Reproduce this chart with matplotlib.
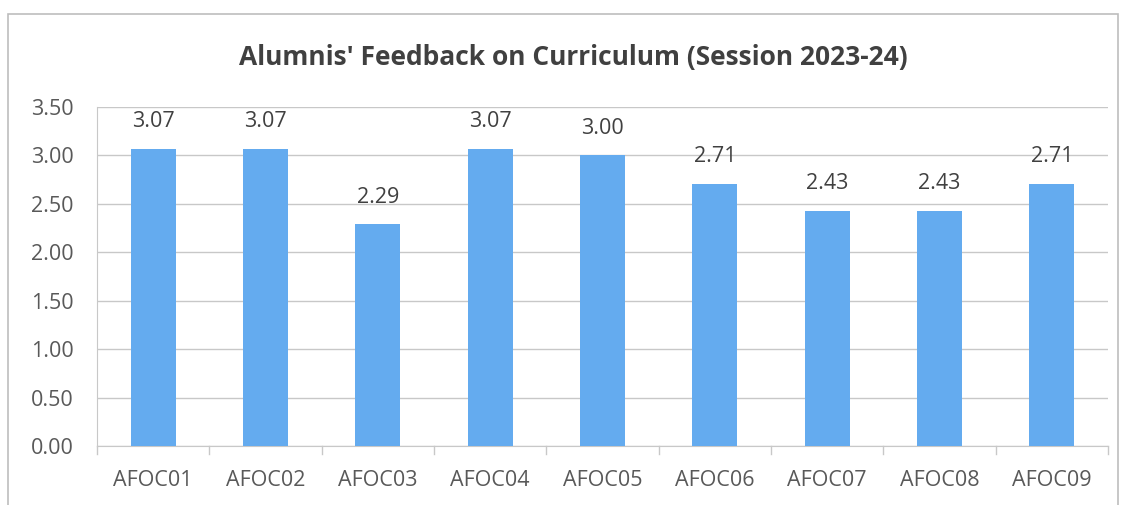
import matplotlib
matplotlib.use("Agg")
import matplotlib.pyplot as plt
from matplotlib.patches import Rectangle

categories = ["AFOC01", "AFOC02", "AFOC03", "AFOC04", "AFOC05", "AFOC06", "AFOC07", "AFOC08", "AFOC09"]
values = [3.07, 3.07, 2.29, 3.07, 3.00, 2.71, 2.43, 2.43, 2.71]
yticks = [0.0, 0.5, 1.0, 1.5, 2.0, 2.5, 3.0, 3.5]
title = "Alumnis' Feedback on Curriculum (Session 2023-24)"

plt.rcParams['font.family'] = ['Open Sans', 'DejaVu Sans']
W, H = 1124, 505
fig = plt.figure(figsize=(W/100, H/100), dpi=100)
fig.patch.set_facecolor('white')

# outer chart border
fig.add_artist(Rectangle((8/W, -0.01), (1118-8)/W, 1 - 14/H + 0.01, transform=fig.transFigure,
                         fill=False, edgecolor='#BDBDBD', linewidth=1.2))

ax = fig.add_axes([97/W, 1-446/H, (1108-97)/W, (446-107)/H])
x = list(range(len(categories)))
ax.bar(x, values, width=0.4, color='#64ABEF', zorder=3)
ax.set_xlim(-0.5, len(categories)-0.5)
ax.set_ylim(0, 3.5)
ax.set_yticks(yticks)
ax.set_yticklabels([f"{v:.2f}" for v in yticks])
ax.set_xticks(x)
ax.set_xticklabels(categories)
ax.tick_params(axis='both', colors='#595959', labelsize=15.5, length=0)
ax.tick_params(axis='y', pad=17)
ax.tick_params(axis='x', pad=17)
for b in [i - 0.5 for i in range(len(categories)+1)]:
    ax.plot([b, b], [0, -0.08], color='#C8C8C8', lw=1, clip_on=False, transform=ax.transData)
ax.yaxis.grid(True, color='#C8C8C8', lw=1, zorder=0)
for s in ['top', 'right']:
    ax.spines[s].set_visible(False)
ax.spines['left'].set_color('#C8C8C8')
ax.spines['bottom'].set_color('#C8C8C8')

for xi, v in zip(x, values):
    ax.annotate(f"{v:.2f}", (xi, v), xytext=(0, 12), textcoords='offset points',
                ha='center', va='bottom', fontsize=15.5, color='#404040', zorder=4)

fig.text(573/W, 1-57/H, title, ha='center', va='center', fontsize=19, fontweight='bold', color='#404040')

fig.savefig("out.png", dpi=100, facecolor='white')
